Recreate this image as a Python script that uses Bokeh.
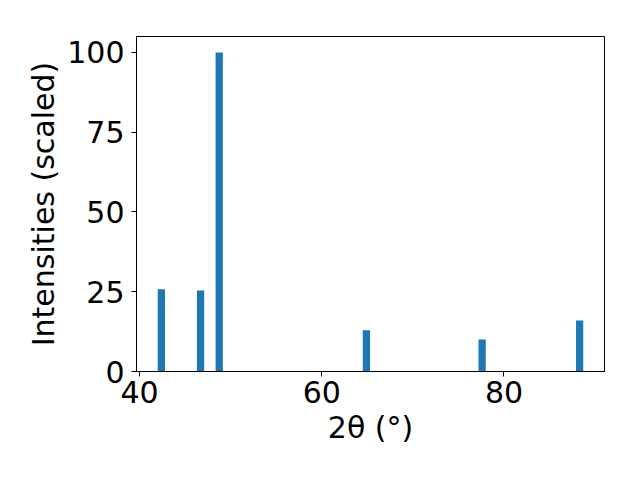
from bokeh.plotting import figure
from bokeh.models import Range1d, FixedTicker
from bokeh.embed import file_html
from bokeh.resources import INLINE

two_theta = [42.4, 46.7, 48.75, 64.9, 77.6, 88.3]
intensity = [25.8, 25.4, 100.0, 12.9, 10.0, 16.0]
bar_width = 0.8
x_ticks = [40, 60, 80]
y_ticks = [0, 25, 50, 75, 100]

FONT = "DejaVu Sans"
FS = "30px"

p = figure(output_backend="svg", toolbar_location=None,
           frame_width=468, frame_height=335,
           min_border_left=136, min_border_right=36,
           min_border_top=36, min_border_bottom=109,
           x_range=Range1d(39.67, 91.03), y_range=Range1d(0, 105))

p.vbar(x=two_theta, top=intensity, width=bar_width, bottom=0,
       color="#1f77b4", line_color=None)

p.xgrid.visible = False
p.ygrid.visible = False
p.outline_line_color = "black"
p.outline_line_width = 1
p.background_fill_color = "white"
p.border_fill_color = "white"

for ax in (p.xaxis[0], p.yaxis[0]):
    ax.major_label_text_font = FONT
    ax.major_label_text_font_size = FS
    ax.major_label_text_color = "black"
    ax.axis_label_text_font = FONT
    ax.axis_label_text_font_size = FS
    ax.axis_label_text_font_style = "normal"
    ax.axis_label_text_color = "black"
    ax.major_tick_out = 5
    ax.major_tick_in = 0
    ax.minor_tick_out = 0
    ax.minor_tick_in = 0
    ax.axis_line_color = "black"
    ax.major_tick_line_color = "black"

p.xaxis.ticker = FixedTicker(ticks=x_ticks)
p.yaxis.ticker = FixedTicker(ticks=y_ticks)
p.xaxis.axis_label = "2θ (°)"
p.yaxis.axis_label = "Intensities (scaled)"
p.xaxis.major_label_standoff = 4
p.yaxis.major_label_standoff = 7
p.xaxis.axis_label_standoff = 4
p.yaxis.axis_label_standoff = 3

open("out.html", "w").write(file_html(p, INLINE))
